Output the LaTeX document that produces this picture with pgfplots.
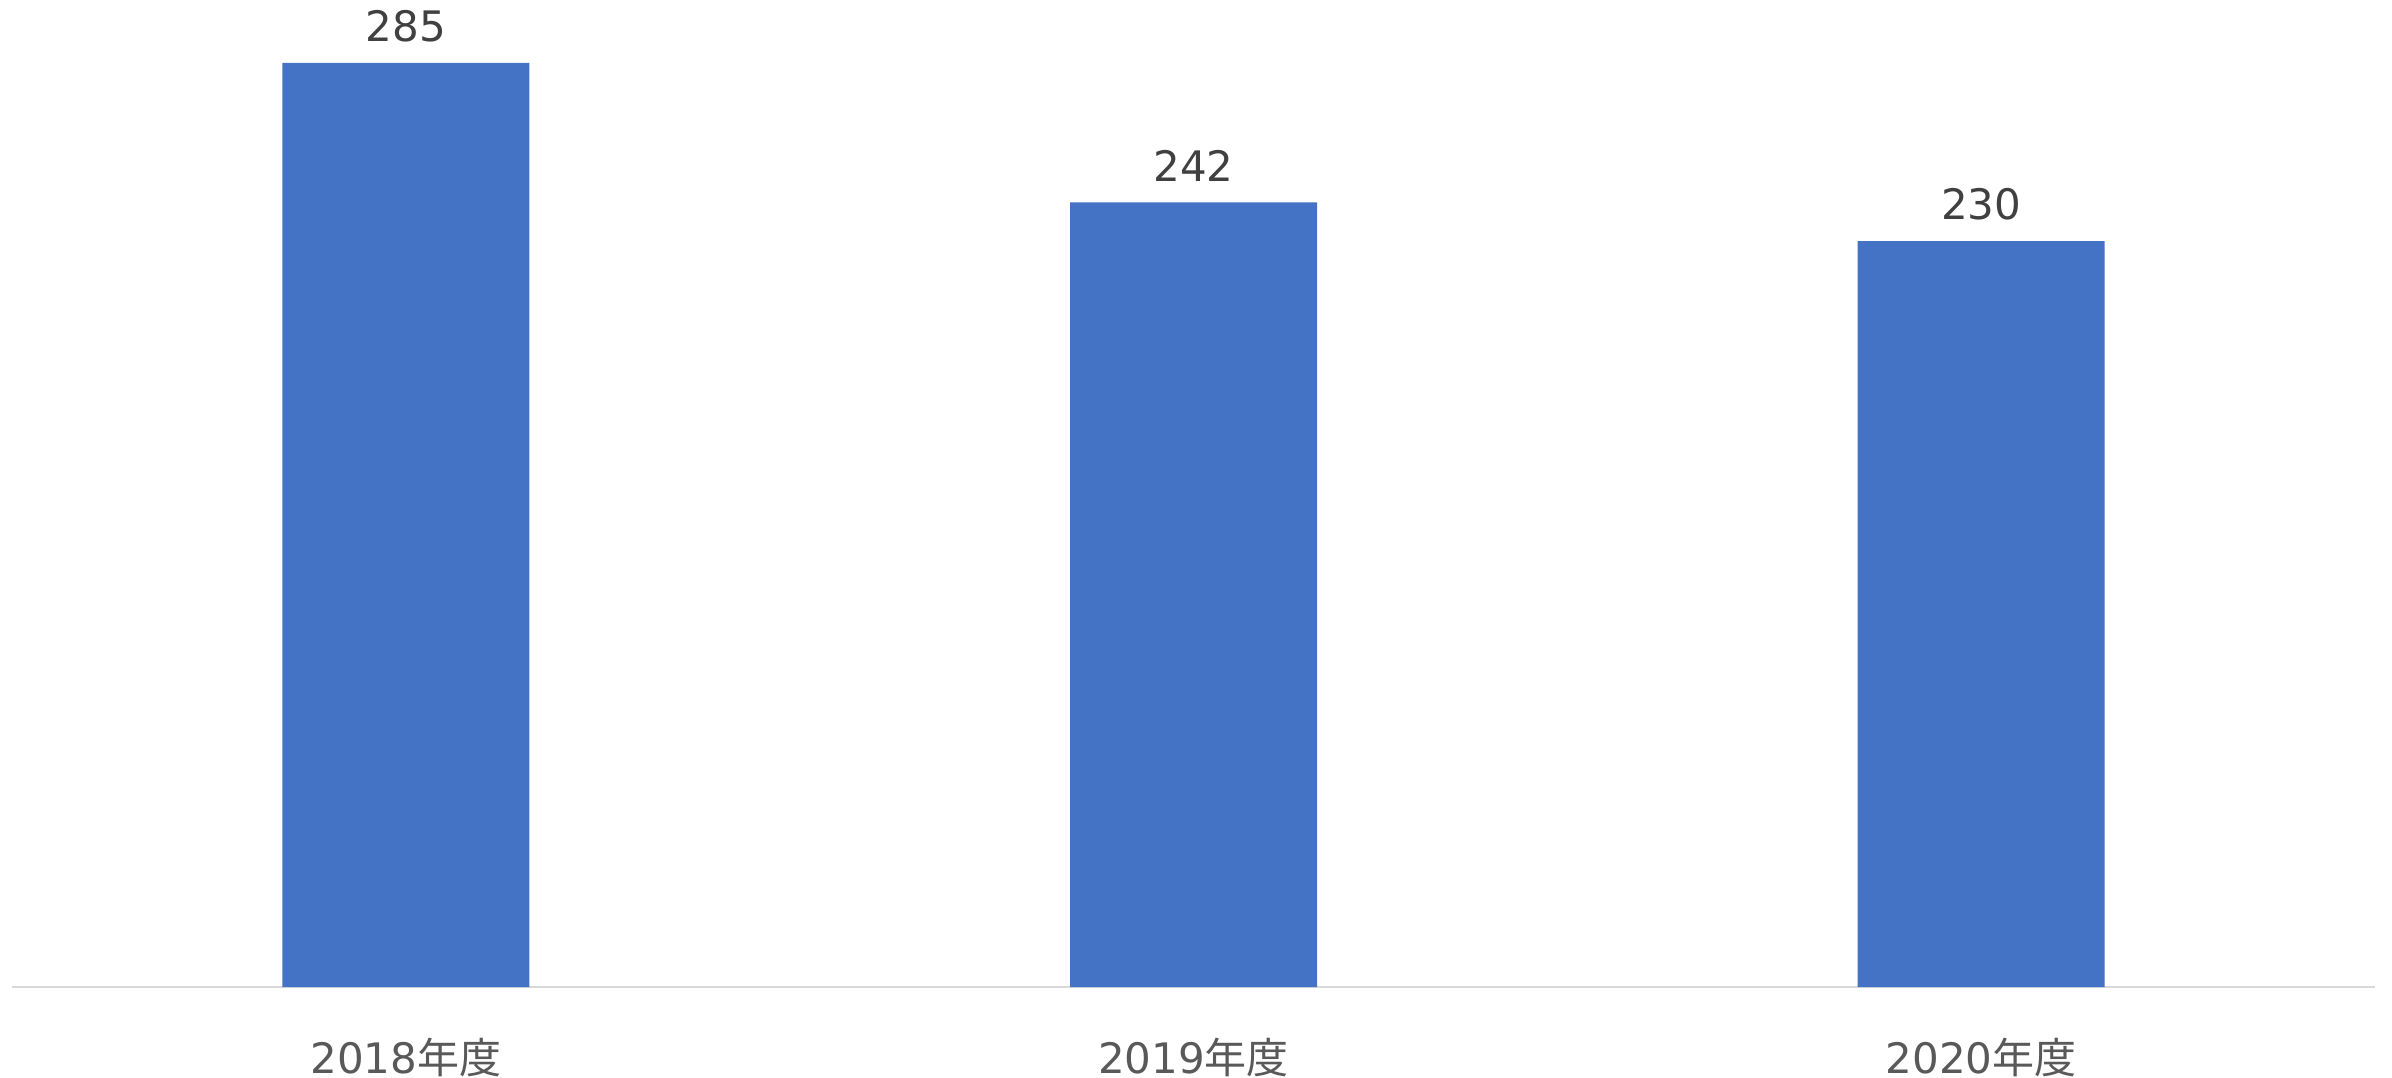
\documentclass[border=0pt]{standalone}
\usepackage{pgfplots}
\pgfplotsset{compat=1.18}
\usepackage{fontspec}
\setmainfont{DejaVu Sans}
\newfontfamily\cjk{Noto Sans CJK JP}
\definecolor{barblue}{HTML}{4472C4}
\definecolor{vallab}{HTML}{404040}
\definecolor{ticklab}{HTML}{595959}
\definecolor{axisgray}{HTML}{D9D9D9}
\begin{document}
\begin{tikzpicture}
\begin{axis}[
  scale only axis, width=590.75bp, height=246.75bp,
  xmin=-0.5, xmax=2.5, ymin=0, ymax=304.4,
  axis x line=bottom, axis y line=none,
  x axis line style={draw=axisgray, line width=0.5bp, -},
  xtick={0,1,2},
  xticklabels={2018{\cjk 年度},2019{\cjk 年度},2020{\cjk 年度}},
  major tick length=0pt,
  xticklabel style={anchor=north, inner sep=0pt, yshift=-12.5bp, text=ticklab, font=\fontsize{10.5bp}{12bp}\selectfont},
  /pgf/number format/assume math mode=true,
  ybar, bar width=61.75bp,
  nodes near coords,
  every node near coord/.append style={anchor=south, inner sep=0pt, yshift=5bp, text=vallab, font=\fontsize{10.5bp}{12bp}\selectfont},
  clip=false,
]
\addplot[fill=barblue, draw=none] coordinates {(0,285) (1,242) (2,230)};
\coordinate (sw) at (rel axis cs:0,0);
\coordinate (ne) at (rel axis cs:1,1);
\end{axis}
\pgfresetboundingbox
\path[use as bounding box] ([shift={(-3bp,-22.75bp)}]sw) rectangle ([shift={(4.25bp,0bp)}]ne);
\end{tikzpicture}
\end{document}
